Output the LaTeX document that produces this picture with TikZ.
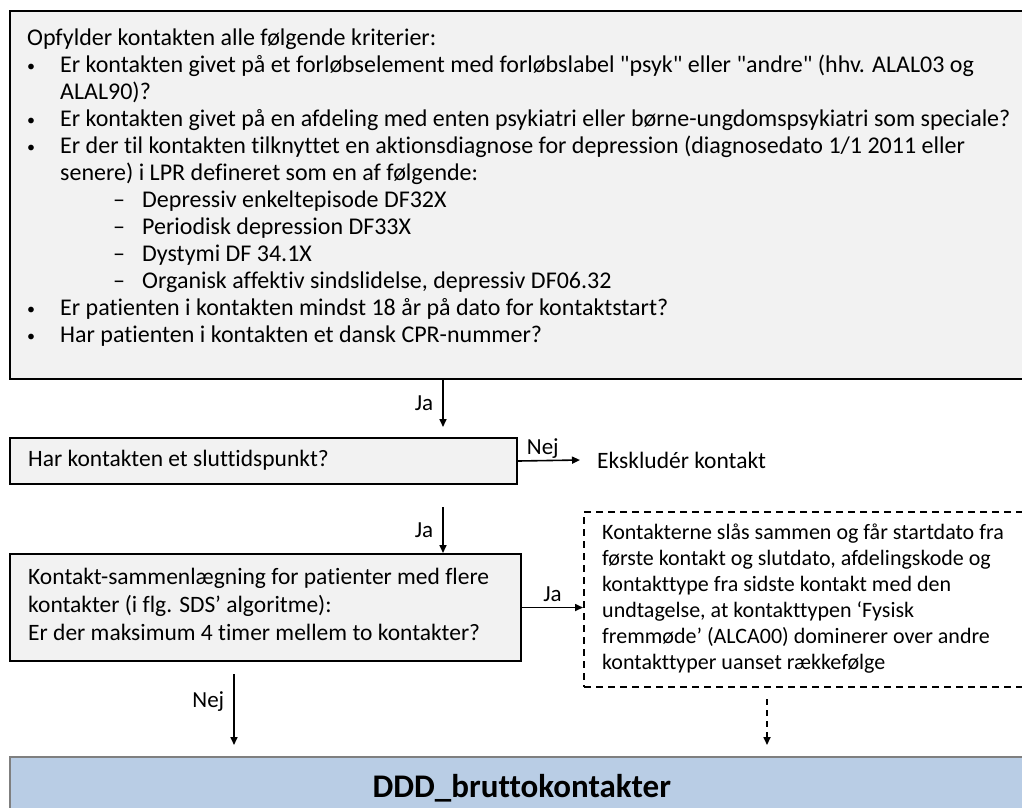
\documentclass[tikz,border=0pt]{standalone}
\usepackage{fontspec}
\setmainfont{Carlito}[Ligatures={TeXOff,NoCommon}]
\usepackage{xcolor}
\usetikzlibrary{arrows.meta}
\usetikzlibrary{calc}

\definecolor{dddboxgray}{HTML}{F2F2F2}
\definecolor{dddblue}{HTML}{B9CDE5}
\definecolor{dddedge}{HTML}{7F7F7F}

\newcommand{\critbullet}{\makebox[33pt][l]{\hspace*{0pt}\raisebox{1pt}{\fontsize{16}{16}\selectfont •}}}
\newcommand{\critindent}{\hspace*{33pt}}
\newcommand{\critdash}{\hspace*{86pt}\makebox[29pt][l]{–}}

\tikzset{
  ddd box/.style={draw, line width=2pt, fill=dddboxgray, anchor=north west, inner sep=0pt},
  ddd dashbox/.style={draw, line width=2pt, dash pattern=on 7pt off 5pt, anchor=north west, inner sep=0pt},
  ddd text/.style={inner sep=0pt, align=left, font=\fontsize{23.5}{28}\selectfont},
  ddd arrow/.style={line width=1.6pt, -{Triangle[length=8pt,width=7pt]}},
  ddd label/.style={inner sep=2pt, font=\fontsize{23}{27}\selectfont},
}

\begin{document}
\begin{tikzpicture}[x=1pt,y=-1pt]
        \newcommand{\figdddjax}{443}
        \newcommand{\figdddnejx}{234}
        \newcommand{\figddddashx}{767}
        \newcommand{\figdddwidth}{1054}
        \useasboundingbox (0,0) rectangle (1022,807);
        \clip (0,0) rectangle (1022,807);
        % kriterier
        \node[ddd box, minimum width=\figdddwidth pt, minimum height=368pt] (crit) at (9,10) {};
        \node[ddd text, anchor=north west, font=\fontsize{24}{27}\selectfont] (crittxt) at (27,29) {%
          Opfylder kontakten alle følgende kriterier:\\
          \critbullet Er kontakten givet på et forløbselement med forløbslabel "psyk" eller "andre" (hhv. ALAL03 og\\
          \critindent ALAL90)?\\
          \critbullet Er kontakten givet på en afdeling med enten psykiatri eller børne-ungdomspsykiatri som speciale?\\
          \critbullet Er der til kontakten tilknyttet en aktionsdiagnose for depression (diagnosedato 1/1 2011 eller\\
          \critindent senere) i LPR defineret som en af følgende:\\
          \critdash Depressiv enkeltepisode DF32X\\
          \critdash Periodisk depression DF33X\\
          \critdash Dystymi DF 34.1X\\
          \critdash Organisk affektiv sindslidelse, depressiv DF06.32\\
          \critbullet Er patienten i kontakten mindst 18 år på dato for kontaktstart?\\
          \critbullet Har patienten i kontakten et dansk CPR-nummer?};
        % sluttidspunkt
        \node[ddd box, minimum width=507pt, minimum height=46pt] (hasend) at (9,437) {};
        \node[ddd text, anchor=west] (hasendtxt) at (28,460) {Har kontakten et sluttidspunkt?};
        \node[ddd text, anchor=west, inner xsep=17pt] (excl) at (580,460) {Ekskludér kontakt};
        % sammenlaegning
        \node[ddd box, minimum width=511pt, minimum height=107pt] (merge) at (9,553) {};
        \node[ddd text, anchor=north west] (mergetxt) at (28,568) {%
          Kontakt-sammenlægning for patienter med flere\\
          kontakter (i flg. SDS’ algoritme):\\
          Er der maksimum 4 timer mellem to kontakter?};
        \node[ddd dashbox, minimum width=480pt, minimum height=175pt] (merged) at (583,511) {};
        \node[ddd text, anchor=north west, font=\fontsize{22}{26}\selectfont] (mergedtxt) at (602,524) {%
          Kontakterne slås sammen og får startdato fra\\
          første kontakt og slutdato, afdelingskode og\\
          kontakttype fra sidste kontakt med den\\
          undtagelse, at kontakttypen ‘Fysisk\\
          fremmøde’ (ALCA00) dominerer over andre\\
          kontakttyper uanset rækkefølge};
        % resultat
        \node[draw=dddedge, line width=1.5pt, fill=dddblue, anchor=north west, minimum width=1024pt, minimum height=62pt, font=\bfseries\fontsize{33}{38}\selectfont] (result) at (9,756) {DDD\_bruttokontakter};
        % pile
        \coordinate (colja) at (\figdddjax,0);
        \coordinate (colnej) at (\figdddnejx,0);
        \coordinate (coldash) at (\figddddashx,0);
        \draw[ddd arrow] (crit.south -| colja) -- ($(hasend.north -| colja)+(0,-10)$) node[midway, left, ddd label, inner xsep=9pt] {Ja};
        \draw[ddd arrow] (hasend.east) -- (excl.west) node[pos=0.4, above, ddd label, inner sep=1pt] {Nej};
        \draw[ddd arrow] ($(hasend.south -| colja)+(0,22)$) -- (merge.north -| colja) node[midway, left, ddd label, inner xsep=9pt] {Ja};
        \draw[ddd arrow] (merge.east) -- (merge.east -| merged.west) node[midway, above, ddd label, inner sep=5pt] {Ja};
        \draw[ddd arrow] ($(merge.south -| colnej)+(0,12)$) -- ($(result.north -| colnej)+(0,-11)$) node[pos=0.39, left, ddd label, inner xsep=9pt] {Nej};
        \draw[ddd arrow, dash pattern=on 6pt off 5pt] ($(merged.south -| coldash)+(0,11)$) -- ($(result.north -| coldash)+(0,-11)$);
\end{tikzpicture}
\end{document}
